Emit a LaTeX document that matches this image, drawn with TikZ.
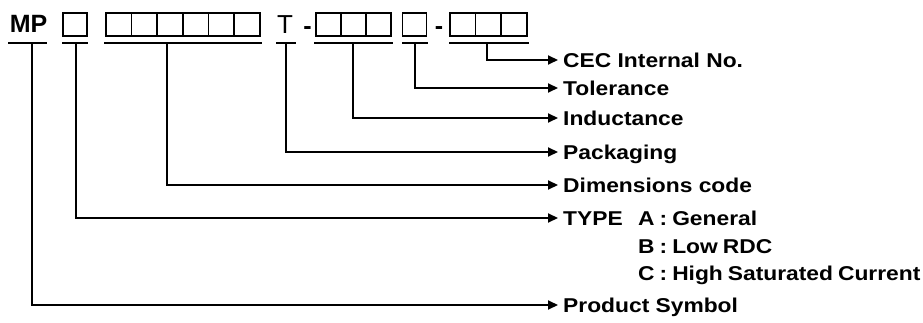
\documentclass[tikz,border=0pt]{standalone}
\usepackage{fontspec}
\setmainfont{Liberation Sans}[FakeStretch=1.14]
\newfontfamily\codefont{Liberation Sans}
\usepackage{tikz}
\usetikzlibrary{arrows.meta,positioning}

\begin{document}
\begin{tikzpicture}[x=1pt,y=-1pt,font=\fontsize{20}{24}\selectfont\bfseries,
      lbl/.style={anchor=west,inner xsep=5pt,inner ysep=0pt,text height=14.4pt,text depth=0pt},
      opt/.style={lbl,inner xsep=0pt,execute at begin node={\spaceskip=5pt}},
      code/.style={inner sep=0pt,font=\codefont\fontsize{25}{27}\selectfont\bfseries},
      sq/.style={draw,line width=1.5pt,minimum width=25.5pt,minimum height=23pt,inner sep=0pt},
      ul/.style={line width=2.6pt},
      lead/.style={line width=2pt,-{Triangle[length=10pt,width=9pt]}}]
    \useasboundingbox (0,0) rectangle (923,323);
    % part number
    \node[code,anchor=base] (mp) at (28.5,33) {MP};
    \node[sq,minimum width=24pt] (ty) at (75,24.5) {};
    \foreach \i in {0,...,5} \node[sq] (d\i) at (118.8+25.67*\i,24.5) {};
    \node[code,anchor=base,font=\codefont\fontsize{26}{28}\selectfont] (pk) at (285,34) {T};
    \node[code,anchor=base] (h1) at (307.5,35) {-};
    \foreach \i in {0,...,2} \node[sq,minimum width=25pt] (l\i) at (328.5+25*\i,24.5) {};
    \node[sq,minimum width=24pt] (tl) at (414.5,24.5) {};
    \node[code,anchor=base] (h2) at (439,35) {-};
    \foreach \i in {0,...,2} \node[sq] (n\i) at (462.8+25.67*\i,24.5) {};
    % underlines
    \draw[ul] (8,43) -- (47,43);
    \draw[ul] (62,43) -- (88,43);
    \draw[ul] (104,43) -- (262,43);
    \draw[ul] (276,43) -- (296,43);
    \draw[ul] (314,43) -- (393,43);
    \draw[ul] (402,43) -- (428,43);
    \draw[ul] (449,43) -- (529,43);
    \coordinate (mpU) at (32,43);
    \coordinate (tyU) at (76,43);
    \coordinate (dU) at (167,43);
    \coordinate (pkU) at (286,43);
    \coordinate (lU) at (353,43);
    \coordinate (tlU) at (415,43);
    \coordinate (nU) at (487,43);
    % labels
    \node[lbl] (cec)  at (558,60)  {CEC Internal No.};
    \node[lbl] (tol)  at (558,88)  {Tolerance};
    \node[lbl] (ind)  at (558,118) {Inductance};
    \node[lbl] (pack) at (558,152) {Packaging};
    \node[lbl] (dim)  at (558,185) {Dimensions code};
    \node[lbl] (type) at (558,218) {TYPE};
    \node[opt] (ta) at (638,218) {A : General};
    \node[opt] (tb) at (638,246) {B : Low RDC};
    \node[opt] (tc) at (638,273) {C : High Saturated Current};
    \node[lbl] (prod) at (558,305) {Product Symbol};
    % leaders
    \draw[lead] (nU) |- (cec.west);
    \draw[lead] (tlU) |- (tol.west);
    \draw[lead] (lU) |- (ind.west);
    \draw[lead] (pkU) |- (pack.west);
    \draw[lead] (dU) |- (dim.west);
    \draw[lead] (tyU) |- (type.west);
    \draw[lead] (mpU) |- (prod.west);
  \end{tikzpicture}
\end{document}
